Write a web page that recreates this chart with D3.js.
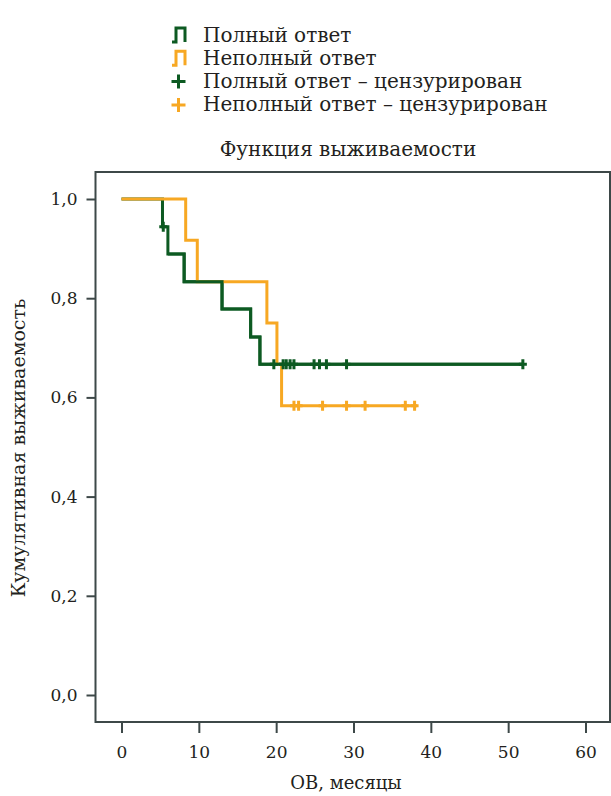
<!DOCTYPE html>
<html>
<head>
<meta charset="utf-8">
<script src="https://cdn.jsdelivr.net/npm/d3@7"></script>
<style>
  body { margin: 0; background: #fff; }
  svg text { font-family: "DejaVu Serif", "Liberation Serif", serif; fill: #231f20; }
</style>
</head>
<body>
<div id="chart"></div>
<script>
const width = 611;
const height = 796;

// Kaplan-Meier steps: [month, survival]
const fullSteps = [[0, 1.0], [5.3, 0.944], [6.0, 0.889], [8.1, 0.833], [13.0, 0.778], [16.7, 0.722], [17.9, 0.667], [52.0, 0.667]];
const partialSteps = [[0, 1.0], [8.3, 0.917], [9.8, 0.833], [18.8, 0.75], [20.1, 0.667], [20.7, 0.583], [38.2, 0.583]];
// censored observations
const fullCensored = [[5.4, 0.944], [19.7, 0.667], [20.9, 0.667], [21.3, 0.667], [21.8, 0.667], [22.3, 0.667], [24.9, 0.667], [25.6, 0.667], [26.5, 0.667], [29.1, 0.667], [51.9, 0.667]];
const partialCensored = [[22.3, 0.583], [22.9, 0.583], [26.0, 0.583], [29.1, 0.583], [31.5, 0.583], [36.7, 0.583], [37.9, 0.583]];

const xTicks = [0, 10, 20, 30, 40, 50, 60];
const yTicks = [0, 0.2, 0.4, 0.6, 0.8, 1.0];
const legendLabels = ["Полный ответ", "Неполный ответ", "Полный ответ – цензурирован", "Неполный ответ – цензурирован"];

const green = "#0d5a22";
const orange = "#f7a823";
const frameColor = "#3d4848";
const textFont = "'DejaVu Serif', 'Liberation Serif', serif";

const frame = { left: 95.5, top: 172, right: 610, bottom: 722 };

const svg = d3.select("#chart").append("svg")
    .attr("width", width)
    .attr("height", height);

const x = d3.scaleLinear().domain([0, 60]).range([121.5, 585.5]);
const y = d3.scaleLinear().domain([0, 1]).range([695, 199]);

// frame
svg.append("rect")
    .attr("x", frame.left)
    .attr("y", frame.top)
    .attr("width", frame.right - frame.left)
    .attr("height", frame.bottom - frame.top)
    .attr("fill", "none")
    .attr("stroke", frameColor)
    .attr("stroke-width", 2);

// x axis (ticks below frame)
const xAxis = svg.append("g")
    .attr("transform", `translate(0,${frame.bottom})`)
    .call(d3.axisBottom(x).tickValues(xTicks).tickSize(11).tickPadding(13).tickFormat(d3.format("d")));
xAxis.select(".domain").remove();
xAxis.selectAll("line").attr("stroke", frameColor).attr("stroke-width", 2);
xAxis.selectAll("text").style("font-size", "17px").style("font-family", textFont).attr("fill", "#231f20");

// y axis (ticks left of frame)
const yAxis = svg.append("g")
    .attr("transform", `translate(${frame.left},0)`)
    .call(d3.axisLeft(y).tickValues(yTicks).tickSize(9).tickPadding(9).tickFormat(d => d3.format(".1f")(d).replace(".", ",")));
yAxis.select(".domain").remove();
yAxis.selectAll("line").attr("stroke", frameColor).attr("stroke-width", 2);
yAxis.selectAll("text").style("font-size", "17px").style("font-family", textFont).attr("fill", "#231f20");

// curves
const line = d3.line()
    .x(d => x(d[0]))
    .y(d => y(d[1]))
    .curve(d3.curveStepAfter);

svg.append("path")
    .datum(fullSteps)
    .attr("d", line)
    .attr("fill", "none")
    .attr("stroke", green)
    .attr("stroke-width", 3);

svg.append("path")
    .datum(partialSteps)
    .attr("d", line)
    .attr("fill", "none")
    .attr("stroke", orange)
    .attr("stroke-width", 3);

// draw the green middle part again so it sits over the orange as in the source
svg.append("path")
    .datum(fullSteps.slice(2))
    .attr("d", line)
    .attr("fill", "none")
    .attr("stroke", green)
    .attr("stroke-width", 3);

function censorMarks(data, color) {
    svg.append("g").selectAll("path")
        .data(data)
        .enter()
        .append("path")
        .attr("d", d => `M${x(d[0])},${y(d[1]) - 5}V${y(d[1]) + 5}M${x(d[0]) - 4},${y(d[1])}H${x(d[0]) + 4}`)
        .attr("stroke", color)
        .attr("stroke-width", 3)
        .attr("fill", "none");
}
censorMarks(partialCensored, orange);
censorMarks(fullCensored, green);

// title and axis labels
svg.append("text")
    .attr("x", 348)
    .attr("y", 156)
    .attr("text-anchor", "middle")
    .style("font-size", "20px")
    .text("Функция выживаемости");

svg.append("text")
    .attr("x", 346)
    .attr("y", 789)
    .attr("text-anchor", "middle")
    .style("font-size", "18px")
    .text("ОВ, месяцы");

svg.append("text")
    .attr("transform", "translate(25,448) rotate(-90)")
    .attr("text-anchor", "middle")
    .style("font-size", "19px")
    .text("Кумулятивная выживаемость");

// legend
const legendColors = [green, orange, green, orange];
const legend = svg.append("g");
legendLabels.forEach((label, i) => {
    const cy = 35 + i * 23.3;
    if (i < 2) {
        legend.append("path")
            .attr("d", `M172,${cy + 7}H176V${cy - 7}H185V${cy + 7}`)
            .attr("fill", "none")
            .attr("stroke", legendColors[i])
            .attr("stroke-width", 3);
    } else {
        legend.append("path")
            .attr("d", `M178.5,${cy - 7}V${cy + 7}M171.5,${cy}H185.5`)
            .attr("fill", "none")
            .attr("stroke", legendColors[i])
            .attr("stroke-width", 3);
    }
    legend.append("text")
        .attr("x", 203)
        .attr("y", cy + 6.5)
        .style("font-size", "20px")
        .text(label);
});
</script>
</body>
</html>
